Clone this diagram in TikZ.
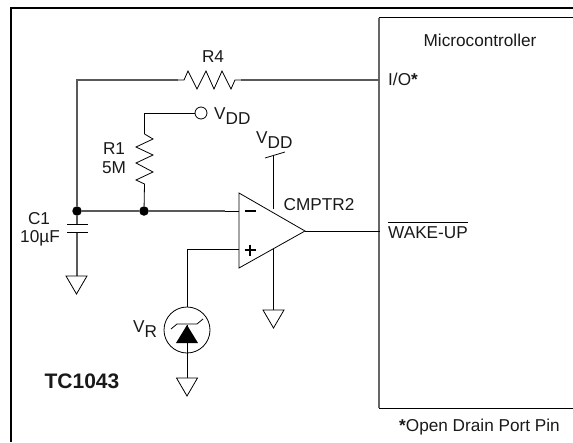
\documentclass[tikz,border=0pt]{standalone}
\usepackage{fontspec}
\setmainfont{Liberation Sans}
\tikzset{
  x=1pt,y=-1pt,
  wire/.style={draw=black!65,line width=1.3pt},
  thin wire/.style={draw=black,line width=0.8pt},
  sym/.style={draw=black,line width=0.8pt,line join=miter},
  lbl/.style={inner sep=0pt,font=\fontsize{17.2}{20}\selectfont,text=black!90},
  dot/.style={circle,fill=black,inner sep=0pt,minimum size=9.5pt},
  gnd/.pic={\draw[sym] (-10.5,0)--(10.5,0)--(0,18)--cycle;},
}
\newcommand{\vsub}[1]{V\raisebox{-0.3em}{#1}}
\begin{document}
\begin{tikzpicture}
\useasboundingbox (0,0) rectangle (573,442);
% frame
\draw[black,line width=2pt] (11,442)--(11,8)--(573,8);
% microcontroller
\coordinate (mtl) at (379,17.5);
\coordinate (mbl) at (379,408);
\draw[black,line width=0.9pt] (573,17.5)--(mtl);
\draw[black,line width=0.9pt] (mbl)--(573,408);
\draw[black!60,line width=1.6pt] (mtl)--(mbl);
% junctions
\node[dot] (j1) at (77,211) {};
\node[dot] (j2) at (144,211) {};
\coordinate (corner) at (77,80);
\coordinate (r4a) at (178,80);
\coordinate (r4b) at (241,80);
\coordinate (io) at (379,80);
% R4
\draw[wire] (j1)--(corner)--(r4a);
\draw[wire] (r4b)--(io);
\draw[sym] (r4a)--(184,80)--(188,71)--(197,89)--(206,71)--(214,89)--(222,71)--(231,89)--(235,80)--(r4b);
% R1
\node[circle,draw=black,line width=0.8pt,inner sep=0pt,minimum size=12pt] (vddc) at (201,113) {};
\coordinate (r1t) at (144.5,113);
\draw[thin wire] (vddc)--(r1t)--(144.5,134);
\draw[sym] (144.5,134)--(153,139)--(136,147)--(153,155)--(136,163)--(153,172)--(136,180)--(144.5,184)--(j2);
% opamp
\coordinate (oa) at (239,193);
\coordinate (ob) at (239,268);
\coordinate (oc) at (305,231);
\draw[sym] (oa)--(oc)--(ob)--cycle;
\draw[wire] (j1)--(j2)--(225,211);
\draw[thin wire] (225,211)--(239,211);
\draw[line width=1.3pt] (245,211)--(256,211);
\draw[line width=1.3pt] (244.5,250)--(255.5,250) (250,244.5)--(250,255.5);
% + input and zener
\node[circle,draw=black,line width=0.8pt,inner sep=0pt,minimum size=46pt] (zc) at (187,330) {};
\coordinate (pc) at (187,249.5);
\draw[thin wire] (239,249.5)--(pc)--(zc);
\fill[black] (187,325)--(198,343)--(176,343)--cycle;
\draw[sym] (171,329)--(177,324)--(197,324)--(203,319);
\draw[thin wire] (187,325)--(187,378);
\pic at (187,378) {gnd};
% C1
\coordinate (c1a) at (77,224);
\coordinate (c1b) at (77,232.5);
\draw[wire] (j1)--(c1a);
\draw[wire] (c1b)--(77,275.5);
\draw[sym] (67,224)--(88,224);
\draw[sym] (67,232.5)--(88,232.5);
\pic at (76.5,276) {gnd};
% supply pins
\coordinate (vs) at (273.5,154.5);
\draw[thin wire] (vs)--(273.5,209);
\draw[sym] (265,158)--(285,152);
\draw[thin wire] (273.5,249)--(273.5,310);
\pic at (273.5,310) {gnd};
% output
\draw[thin wire] (oc)--(380,231);
% labels
\node[lbl] (tr4) at (213,57) {R4};
\node[lbl,anchor=base west] (tvdd1) at (214,119) {\vsub{DD}};
\node[lbl,anchor=base west] (tvdd2) at (256,143.5) {\vsub{DD}};
\node[lbl] (tr1) at (114,149) {R1};
\node[lbl] (t5m) at (114,168) {5M};
\node[lbl] (tc1) at (39,219) {C1};
\node[lbl] (t10) at (40,238) {10µF};
\node[lbl,anchor=base west] (tvr) at (133,332.5) {\vsub{R}};
\node[lbl,font=\fontsize{21}{24}\selectfont\bfseries] (ttc) at (82,381) {TC1043};
\node[lbl] (tcmp) at (319,205) {CMPTR2};
\node[lbl] (tmc) at (480,40.5) {Microcontroller};
\node[lbl,anchor=west] (tio) at (388,79.5) {I/O\textbf{*}};
\node[lbl,anchor=west] (twk) at (388,233) {WAKE-UP};
\draw[black,line width=0.8pt] (twk.west |- 0,222.5)--(twk.east |- 0,222.5);
\node[lbl] (top) at (479.5,427) {\textbf{*}Open Drain Port Pin};
\end{tikzpicture}
\end{document}
